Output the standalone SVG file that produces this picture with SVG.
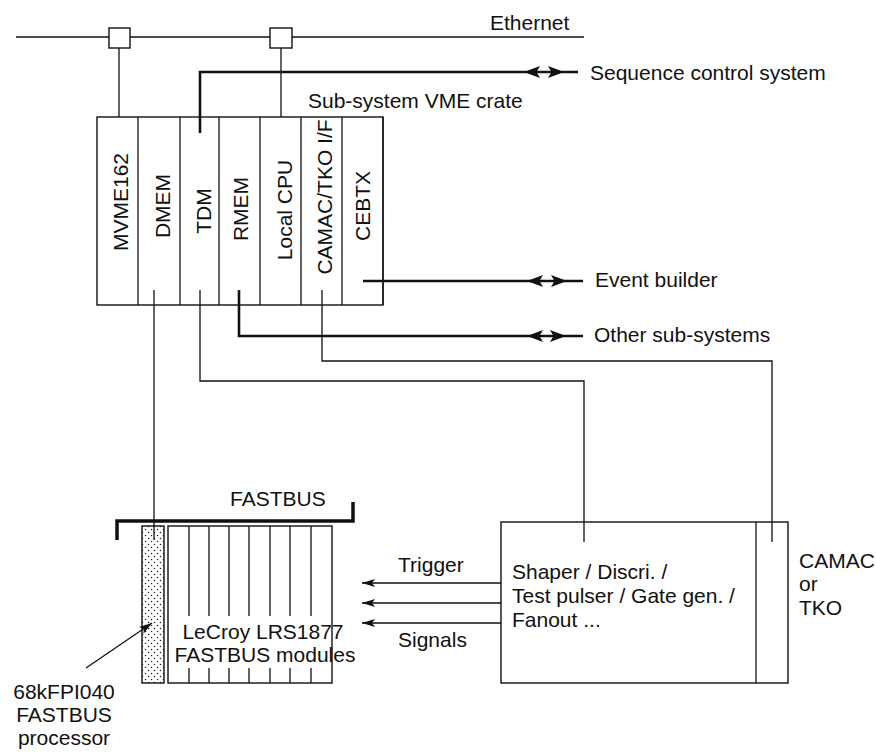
<svg xmlns="http://www.w3.org/2000/svg" width="876" height="755" viewBox="0 0 876 755">
<style>
  text { font-family: "Liberation Sans", Arial, sans-serif; font-size: 21px; fill: #111; }
  .thin { fill: none; stroke: #111; stroke-width: 1.3; }
  .thick { fill: none; stroke: #111; stroke-width: 2.6; }
  .box { fill: #fff; stroke: #111; stroke-width: 1.4; }
  .mid { text-anchor: middle; }
  .head { fill: #111; stroke: none; }
</style>
<defs>
  <pattern id="dots" width="6" height="6" patternUnits="userSpaceOnUse">
    <rect width="6" height="6" fill="#fff"/>
    <circle cx="1.5" cy="1.5" r="0.75" fill="#222"/>
    <circle cx="4.5" cy="4.5" r="0.75" fill="#222"/>
  </pattern>
  <path id="ahL" d="M0,0 L16,-6 L12.5,0 L16,6 Z"/>
  <path id="ahR" d="M0,0 L-16,-6 L-12.5,0 L-16,6 Z"/>
  <marker id="tipE" viewBox="0 0 13 8" refX="13" refY="4" markerWidth="13" markerHeight="8" markerUnits="userSpaceOnUse" orient="auto">
    <path d="M13,4 L0,0 L3,4 L0,8 Z" fill="#111"/>
  </marker>
</defs>

<g id="ethernet">
  <line class="thin" x1="16" y1="37" x2="584" y2="37" stroke-width="1.5"/>
  <rect class="box" x="109" y="28" width="21" height="20"/>
  <rect class="box" x="270" y="28" width="22" height="20"/>
  <text x="490" y="30">Ethernet</text>
</g>

<g id="vme-crate">
  <rect x="97" y="117" width="286" height="188" fill="none" stroke="#111" stroke-width="1.4"/>
  <line class="thin" x1="383" y1="117" x2="383" y2="305" stroke-width="2"/>
  <line class="thin" x1="138" y1="117" x2="138" y2="305"/>
  <line class="thin" x1="180" y1="117" x2="180" y2="305"/>
  <line class="thin" x1="219" y1="117" x2="219" y2="305"/>
  <line class="thin" x1="260" y1="117" x2="260" y2="305"/>
  <line class="thin" x1="301" y1="117" x2="301" y2="305"/>
  <line class="thin" x1="342" y1="117" x2="342" y2="305"/>
  <text class="mid" transform="translate(128,202) rotate(-90)">MVME162</text>
  <text class="mid" transform="translate(170,206) rotate(-90)">DMEM</text>
  <text class="mid" transform="translate(211,211) rotate(-90)">TDM</text>
  <text class="mid" transform="translate(248,209) rotate(-90)">RMEM</text>
  <text class="mid" transform="translate(292,210) rotate(-90)">Local CPU</text>
  <text class="mid" transform="translate(332,197) rotate(-90)">CAMAC/TKO I/F</text>
  <text class="mid" transform="translate(370,206) rotate(-90)">CEBTX</text>
  <text x="308" y="108">Sub-system VME crate</text>
</g>

<g id="labels-right">
  <text x="590" y="80">Sequence control system</text>
  <text x="595" y="287">Event builder</text>
  <text x="594" y="342">Other sub-systems</text>
</g>

<g id="fastbus">
  <path d="M117,540 V521 H353 V502" fill="none" stroke="#111" stroke-width="3.5"/>
  <text x="230" y="506">FASTBUS</text>
</g>

<g id="processor">
  <rect x="142" y="526" width="22" height="157" fill="url(#dots)" stroke="#111" stroke-width="1.4"/>
  <text class="mid" x="64" y="699">68kFPI040</text>
  <text class="mid" x="64" y="722">FASTBUS</text>
  <text class="mid" x="64" y="745">processor</text>
</g>

<g id="modules">
  <rect class="box" x="168" y="526" width="164" height="157"/>
  <path class="thin" d="M189,526 V616 M209,526 V616 M229,526 V616 M249,526 V616 M270,526 V616 M290,526 V616 M311,526 V616"/>
  <path class="thin" d="M189,668 V683 M209,668 V683 M229,668 V683 M249,668 V683 M270,668 V683 M290,668 V683 M311,668 V683"/>
  <text class="mid" x="263" y="639">LeCroy LRS1877</text>
  <text class="mid" x="265" y="662">FASTBUS modules</text>
</g>

<g id="signal-labels">
  <text x="398" y="572">Trigger</text>
  <text x="398" y="647">Signals</text>
</g>

<g id="frontend">
  <rect x="501" y="522" width="287" height="161" fill="none" stroke="#111" stroke-width="1.4"/>
  <line class="thin" x1="756" y1="522" x2="756" y2="683"/>
  <text x="512" y="579">Shaper / Discri. /</text>
  <text x="512" y="603">Test pulser / Gate gen. /</text>
  <text x="512" y="627">Fanout ...</text>
  <text x="799" y="568">CAMAC</text>
  <text x="799" y="591">or</text>
  <text x="799" y="615">TKO</text>
</g>

<g id="connectors">
  <line class="thin" x1="119" y1="48" x2="119" y2="117"/>
  <line class="thin" x1="281" y1="48" x2="281" y2="117"/>
  <path class="thick" d="M200,133 V72 H578"/>
  <use href="#ahL" class="head" x="524" y="72"/>
  <use href="#ahR" class="head" x="564" y="72"/>
  <path class="thick" d="M363,281 H583"/>
  <use href="#ahL" class="head" x="527" y="281"/>
  <use href="#ahR" class="head" x="567" y="281"/>
  <path class="thick" d="M239,290 V336 H583"/>
  <use href="#ahL" class="head" x="527" y="336"/>
  <use href="#ahR" class="head" x="566" y="336"/>
  <path class="thin" d="M154,290 V540"/>
  <path class="thin" d="M200,290 V381 H584 V542"/>
  <path class="thin" d="M322,290 V361 H772 V542"/>
  <line class="thin" x1="501" y1="583" x2="362" y2="583" marker-end="url(#tipE)"/>
  <line class="thin" x1="501" y1="603" x2="362" y2="603" marker-end="url(#tipE)"/>
  <line class="thin" x1="501" y1="623" x2="362" y2="623" marker-end="url(#tipE)"/>
  <line class="thin" x1="86" y1="668" x2="152" y2="623" stroke-width="1.5" marker-end="url(#tipE)"/>
</g>
</svg>
